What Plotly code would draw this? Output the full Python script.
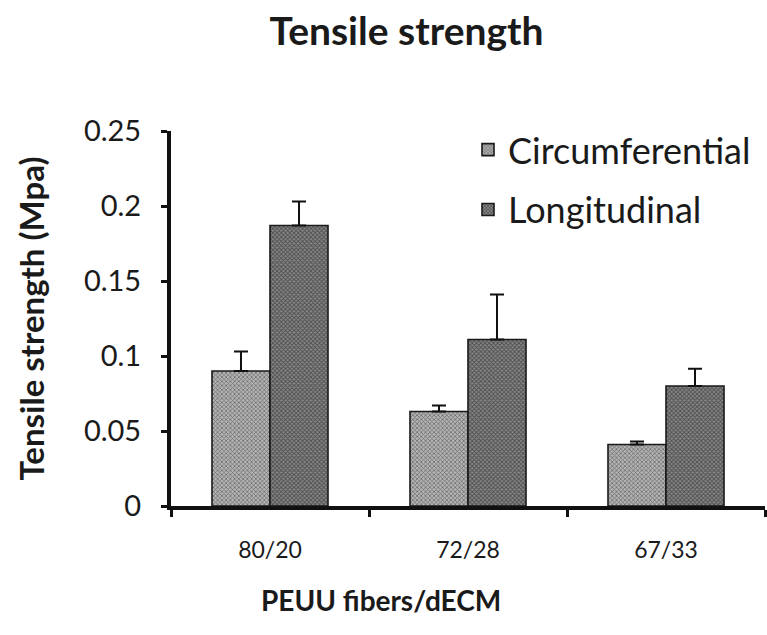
import plotly.graph_objects as go

categories = ["80/20", "72/28", "67/33"]
circ_values = [0.090, 0.063, 0.041]
circ_err = [0.013, 0.004, 0.002]
long_values = [0.187, 0.111, 0.080]
long_err = [0.016, 0.030, 0.0115]
y_ticks = [0, 0.05, 0.1, 0.15, 0.2, 0.25]
y_tick_text = ["0", "0.05", "0.1", "0.15", "0.2", "0.25"]

FONT = "Lato"
TXT = "#1a1a1a"

fig = go.Figure()
fig.add_trace(go.Bar(
    name="Circumferential", x=categories, y=circ_values,
    legendgroup="a",
    marker=dict(color="#ffffff", line=dict(color="#1a1a1a", width=1.6),
                pattern=dict(shape="x", size=3, solidity=0.4, fgcolor="#111", bgcolor="#b4b4b4")),
    error_y=dict(type="data", array=circ_err, arrayminus=[0]*3, symmetric=False,
                 color="#111", thickness=2, width=7),
))
fig.add_trace(go.Bar(
    name="Longitudinal", x=categories, y=long_values,
    legendgroup="b",
    marker=dict(color="#ffffff", line=dict(color="#1a1a1a", width=1.6),
                pattern=dict(shape="x", size=3, solidity=0.5, fgcolor="#111", bgcolor="#888888")),
    error_y=dict(type="data", array=long_err, arrayminus=[0]*3, symmetric=False,
                 color="#111", thickness=2, width=7),
))

fig.update_layout(
    width=767, height=635,
    margin=dict(l=171, r=2, t=131, b=129, autoexpand=False),
    paper_bgcolor="white", plot_bgcolor="white",
    barmode="group", bargap=0.414, bargroupgap=0,
    font=dict(family=FONT, color=TXT),
    title=dict(text="<b>Tensile strength</b>", x=0.53, xanchor="center", y=0.95, yanchor="middle",
               font=dict(size=39, family=FONT, color=TXT)),
    legend=dict(x=0.50, y=1.03, xanchor="left", yanchor="top",
                font=dict(size=36, family=FONT, color=TXT),
                traceorder="grouped", tracegroupgap=10, bgcolor="rgba(0,0,0,0)",
                itemwidth=30),
    showlegend=True,
    annotations=[dict(text="<b>PEUU fibers/dECM</b>", xref="paper", yref="paper",
                      x=0.354, y=-0.25, xanchor="center", yanchor="middle", showarrow=False,
                      font=dict(size=28, family=FONT, color=TXT))],
)
fig.update_xaxes(
    range=[-0.5, 2.5], showline=True, linecolor="#111", linewidth=4,
    ticks="outside", tickson="boundaries", ticklen=7, tickwidth=3, tickcolor="#111",
    tickfont=dict(size=23, family=FONT, color=TXT), ticklabelstandoff=20,
    showgrid=False, zeroline=False, automargin=False,
)
fig.update_yaxes(
    range=[0, 0.25], tickvals=y_ticks, ticktext=y_tick_text,
    showline=True, linecolor="#111", linewidth=4,
    ticks="outside", ticklen=6, tickwidth=3, tickcolor="#111",
    tickfont=dict(size=29, family=FONT, color=TXT), ticklabelstandoff=14,
    title=dict(text="<b>Tensile strength (Mpa)</b>", font=dict(size=33, family=FONT, color=TXT), standoff=30),
    showgrid=False, zeroline=False, automargin=False,
)

fig.write_html("out.html", config={"displayModeBar": False},
               post_script="document.body.style.margin='0';")
